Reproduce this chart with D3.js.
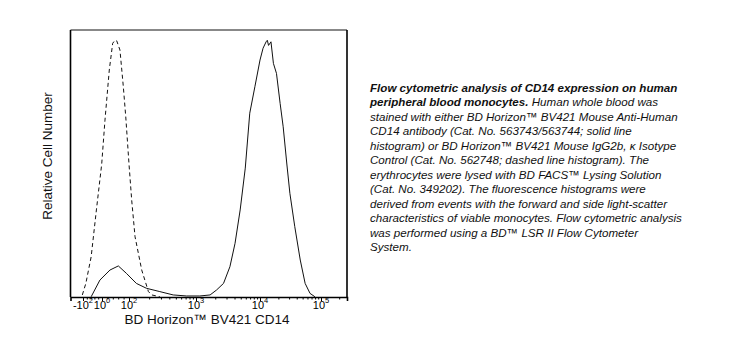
<!DOCTYPE html>
<html><head><meta charset="utf-8">
<script src="https://cdn.jsdelivr.net/npm/d3@7"></script>
<style>
body{margin:0;background:#fff;}
svg{display:block;font-family:"Liberation Sans",Arial,sans-serif;}
</style></head>
<body><svg id="c" width="740" height="351"></svg>
<script>
// ---- data (x in display-exponent units: -2 = -10^2, 0 = 10^0, 2 = 10^2 ...; y = relative count, peak = 100)
const solidX = [-1.14,-0.22,0.59,1.21,1.81,2.11,2.26,2.46,2.66,2.86,3.06,3.22,3.32,3.43,3.53,3.61,3.69,3.77,3.84,3.92,4.00,4.05,4.10,4.12,4.14,4.18,4.22,4.27,4.33,4.38,4.44,4.49,4.57,4.66,4.74,4.82,4.90];
const solidY = [0.1,6.6,10.5,12.1,9.2,5.3,3.4,2.1,0.8,0.4,0.4,0.8,2.7,5.3,11.8,20.9,33.9,50.2,71.6,81.9,92.3,96.9,99.4,100,98,99.4,91,87.1,75.4,66.3,51.8,40.4,27.4,14.4,5.3,1.4,0.1];
const dashX = [-2.08,-1.70,-1.14,-0.59,-0.03,0.22,0.54,0.79,0.96,1.09,1.33,1.58,1.76,2.00,2.04,2.09,2.19,2.29,2.34,2.46];
const dashY = [0.8,5.3,15.7,33.9,51.8,68.9,88.4,98.8,100,99.8,96.2,81.9,70.2,51.8,37.8,23.5,10.5,2.1,0.8,0.1];
const majorTicks = [-2,0,2,3,4,5];
const majorBase = ["-10","10","10","10","10","10"];
const majorExp = ["2","0","2","3","4","5"];
const minorTicks = [-1.6,-1.2,-0.8,-0.4,0.4,0.8,1.2,1.6,
  ...[2,3,4].flatMap(d=>[2,3,4,5,6,7,8,9].map(k=>+(d+Math.log10(k)).toFixed(3))),
  5.301];
const xTitle = "BD Horizon™ BV421 CD14";
const yTitle = "Relative Cell Number";
const captionLines = [
  [["b","Flow cytometric analysis of CD14 expression on human"]],
  [["b","peripheral blood monocytes."],["n"," Human whole blood was"]],
  [["n","stained with either BD Horizon™ BV421 Mouse Anti-Human"]],
  [["n","CD14 antibody (Cat. No. 563743/563744; solid line"]],
  [["n","histogram) or BD Horizon™ BV421 Mouse IgG2b, κ Isotype"]],
  [["n","Control (Cat. No. 562748; dashed line histogram). The"]],
  [["n","erythrocytes were lysed with BD FACS™ Lysing Solution"]],
  [["n","(Cat. No. 349202). The fluorescence histograms were"]],
  [["n","derived from events with the forward and side light-scatter"]],
  [["n","characteristics of viable monocytes. Flow cytometric analysis"]],
  [["n","was performed using a BD™ LSR II Flow Cytometer"]],
  [["n","System."]]
];

// ---- layout
const FONT = "'Liberation Sans', Arial, sans-serif";
const L=70.5, R=347, T=30, B=297;
const svg = d3.select("#c");
const x = d3.scaleLinear()
  .domain([-3.5,-2,0,2,3,4,5,5.43])
  .range([L,83,102,129,196,260,321,R]);
const y = d3.scaleLinear().domain([0,104]).range([B,T]);

const line = d3.line().x(d=>x(d[0])).y(d=>y(d[1])).curve(d3.curveLinear);
const solid = solidX.map((v,i)=>[v,solidY[i]]);
const dash = dashX.map((v,i)=>[v,dashY[i]]);

const g = svg.append("g");
g.append("path").attr("d",line(dash)).attr("fill","none").attr("stroke","#111").attr("stroke-width",1).attr("stroke-dasharray","4,3");
g.append("path").attr("d",line(solid)).attr("fill","none").attr("stroke","#111").attr("stroke-width",1);

// frame
svg.append("line").attr("x1",L).attr("x2",R).attr("y1",T).attr("y2",T).attr("stroke","#888").attr("stroke-width",2);
svg.append("line").attr("x1",L).attr("x2",L).attr("y1",T).attr("y2",B).attr("stroke","#000").attr("stroke-width",1.6);
svg.append("line").attr("x1",R).attr("x2",R).attr("y1",T).attr("y2",B).attr("stroke","#000").attr("stroke-width",1.6);

// axes
const ax = svg.append("g").attr("transform",`translate(0,${B})`)
  .call(d3.axisBottom(x).tickValues(majorTicks).tickSize(4).tickFormat(""));
ax.select(".domain").attr("stroke","#000").attr("stroke-width",1.6);
svg.append("g").attr("transform",`translate(0,${B})`)
  .call(d3.axisBottom(x).tickValues(minorTicks).tickSize(2.5).tickFormat(""))
  .call(s=>s.select(".domain").remove());

const lab = svg.append("g").attr("font-family",FONT).attr("font-size",11).attr("fill","#000");
majorTicks.forEach((t,i)=>{
  const tx = lab.append("text").attr("x",x(t)).attr("y",308.5).attr("text-anchor","middle");
  tx.append("tspan").text(majorBase[i]);
  tx.append("tspan").attr("dy",-5.5).attr("font-size",7.5).text(majorExp[i]);
});

svg.append("text").attr("x",207).attr("y",324).attr("font-family",FONT).attr("text-anchor","middle").attr("font-size",13.5).attr("fill","#111").text(xTitle);
svg.append("text").attr("transform","translate(52,156) rotate(-90)").attr("font-family",FONT).attr("text-anchor","middle").attr("font-size",13.5).attr("fill","#111").text(yTitle);

// caption
const cap = svg.append("g").attr("font-family",FONT).attr("font-size",11.6).attr("font-style","italic").attr("fill","#111");
captionLines.forEach((ln,i)=>{
  const t = cap.append("text").attr("x",370).attr("y",92+i*14.45);
  ln.forEach(seg=>t.append("tspan").attr("font-weight",seg[0]==="b"?"bold":"normal").text(seg[1]));
});
</script></body></html>
